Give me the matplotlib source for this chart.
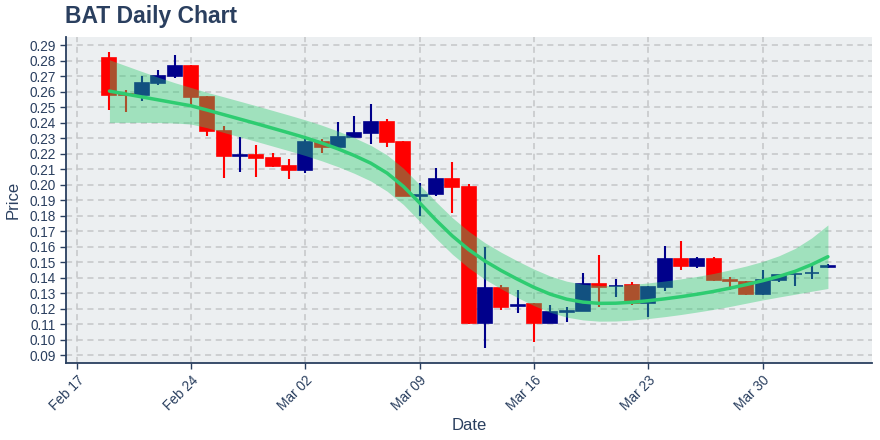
import matplotlib
matplotlib.use("Agg")
import matplotlib.pyplot as plt
import matplotlib.dates as mdates
import numpy as np
import pandas as pd

plt.rcParams['font.family'] = ['Liberation Sans', 'DejaVu Sans']

# ---- data ----
dates = pd.date_range("2020-02-19", "2020-04-03", freq="D")

open_ = [0.2818, 0.2585, 0.2580, 0.2659, 0.2704, 0.2767, 0.2569, 0.2347, 0.2188, 0.2192,
         0.2173, 0.2119, 0.2095, 0.2278, 0.2246, 0.2310, 0.2336, 0.2405, 0.2278, 0.1930,
         0.1943, 0.2037, 0.1988, 0.1110, 0.1336, 0.1220, 0.1231, 0.1110, 0.1182, 0.1188,
         0.1358, 0.1345, 0.1354, 0.1235, 0.1343, 0.1521, 0.1478, 0.1521, 0.1384, 0.1375,
         0.1297, 0.1386, 0.1422, 0.1429, 0.1468]
high = [0.2857, 0.2612, 0.2704, 0.2741, 0.2838, 0.2773, 0.2573, 0.2380, 0.2311, 0.2255,
        0.2208, 0.2166, 0.2300, 0.2294, 0.2407, 0.2444, 0.2519, 0.2426, 0.2282, 0.2010,
        0.2106, 0.2145, 0.2003, 0.1597, 0.1354, 0.1321, 0.1235, 0.1225, 0.1210, 0.1429,
        0.1547, 0.1390, 0.1371, 0.1345, 0.1607, 0.1637, 0.1534, 0.1534, 0.1405, 0.1378,
        0.1450, 0.1420, 0.1426, 0.1487, 0.1487]
low = [0.2483, 0.2472, 0.2541, 0.2646, 0.2691, 0.2509, 0.2315, 0.2042, 0.2085, 0.2048,
       0.2112, 0.2035, 0.2078, 0.2203, 0.2225, 0.2308, 0.2263, 0.2246, 0.1925, 0.1799,
       0.1928, 0.1820, 0.1100, 0.0949, 0.1192, 0.1175, 0.0988, 0.1105, 0.1117, 0.1185,
       0.1210, 0.1278, 0.1223, 0.1149, 0.1317, 0.1450, 0.1465, 0.1380, 0.1321, 0.1287,
       0.1290, 0.1375, 0.1347, 0.1394, 0.1466]
close = [0.2582, 0.2582, 0.2657, 0.2702, 0.2767, 0.2569, 0.2349, 0.2186, 0.2192, 0.2175,
         0.2124, 0.2095, 0.2278, 0.2246, 0.2306, 0.2334, 0.2405, 0.2278, 0.1928, 0.1936,
         0.2037, 0.1986, 0.1110, 0.1336, 0.1214, 0.1226, 0.1110, 0.1177, 0.1186, 0.1358,
         0.1339, 0.1349, 0.1235, 0.1341, 0.1521, 0.1478, 0.1521, 0.1386, 0.1380, 0.1297,
         0.1386, 0.1418, 0.1426, 0.1433, 0.1476]

trend_mid = [0.2605, 0.2586, 0.2567, 0.2548, 0.2529, 0.2510, 0.2482, 0.2453, 0.2424, 0.2395,
             0.2365, 0.2335, 0.2304, 0.2270, 0.2232, 0.2189, 0.2140, 0.2076, 0.1990, 0.1883,
             0.1772, 0.1670, 0.1582, 0.1508, 0.1446, 0.1390, 0.1338, 0.1294, 0.1262, 0.1243,
             0.1235, 0.1236, 0.1242, 0.1252, 0.1264, 0.1278, 0.1294, 0.1312, 0.1333, 0.1356,
             0.1381, 0.1409, 0.1442, 0.1485, 0.1536]
trend_upper = [0.2807, 0.2769, 0.2731, 0.2694, 0.2659, 0.2628, 0.2596, 0.2568, 0.2539, 0.2510,
               0.2480, 0.2450, 0.2419, 0.2385, 0.2347, 0.2304, 0.2255, 0.2193, 0.2107, 0.2001,
               0.1890, 0.1788, 0.1700, 0.1626, 0.1564, 0.1508, 0.1456, 0.1411, 0.1378, 0.1358,
               0.1350, 0.1351, 0.1357, 0.1367, 0.1379, 0.1393, 0.1409, 0.1428, 0.1451, 0.1476,
               0.1505, 0.1542, 0.1590, 0.1657, 0.1741]
trend_lower = [0.2403, 0.2403, 0.2403, 0.2402, 0.2399, 0.2392, 0.2368, 0.2338, 0.2309, 0.2280,
               0.2250, 0.2220, 0.2189, 0.2155, 0.2117, 0.2074, 0.2025, 0.1959, 0.1873, 0.1765,
               0.1654, 0.1552, 0.1464, 0.1390, 0.1328, 0.1272, 0.1220, 0.1177, 0.1146, 0.1128,
               0.1120, 0.1121, 0.1127, 0.1137, 0.1149, 0.1163, 0.1179, 0.1196, 0.1215, 0.1236,
               0.1257, 0.1276, 0.1294, 0.1313, 0.1331]

yticks = [round(0.09 + 0.01 * i, 2) for i in range(21)]

# ---- style ----
TEXT = '#2a3f5f'
INC = '#00008b'
DEC = '#ff0000'
BAND = '#2ecc71'

fig = plt.figure(figsize=(8.8, 4.4), dpi=100)
ax = fig.add_axes([66 / 880, 1 - 363 / 440, (872 - 66) / 880, (363 - 36.7) / 440])
ax.set_facecolor('#eceff1')

x = mdates.date2num(dates)
o = np.array(open_); c = np.array(close); h = np.array(high); l = np.array(low)
inc = c >= o
colors = np.where(inc, INC, DEC)

ax.vlines(x, l, h, colors=colors, linewidth=1.5, zorder=3)
bottoms = np.minimum(o, c)
heights = np.abs(c - o)
ax.bar(x, heights, bottom=bottoms, width=0.86, color=colors, edgecolor=colors,
       linewidth=1.2, zorder=4)

ax.fill_between(x, trend_lower, trend_upper, color=BAND, alpha=0.4, linewidth=0, zorder=5)
ax.plot(x, trend_mid, color=BAND, linewidth=2.5, zorder=6, solid_capstyle='round',
        solid_joinstyle='round')

ax.set_xlim(x[0] - 2.66, x[-1] + 2.7)
ax.set_ylim(0.0850, 0.2956)
ax.set_yticks(yticks)
ax.yaxis.set_major_formatter(matplotlib.ticker.FormatStrFormatter('%.2f'))
ax.xaxis.set_major_locator(mdates.WeekdayLocator(byweekday=mdates.MO))
ax.xaxis.set_major_formatter(mdates.DateFormatter('%b %d'))

ax.grid(True, color='#c4c6c8', linestyle=(0, (4, 3)), linewidth=1.1, zorder=0)
ax.set_axisbelow(True)

for s in ['top', 'right']:
    ax.spines[s].set_visible(False)
for s in ['left', 'bottom']:
    ax.spines[s].set_color(TEXT)
    ax.spines[s].set_linewidth(1.3)

ax.tick_params(axis='both', colors=TEXT, labelcolor=TEXT, labelsize=9.8, length=4, width=1)
plt.setp(ax.get_xticklabels(), rotation=45, ha='right', rotation_mode='anchor')

ax.set_xlabel('Date', color=TEXT, fontsize=12, labelpad=3)
ax.set_ylabel('Price', color=TEXT, fontsize=12, labelpad=6)

fig.text(65 / 880, 1 - 17 / 440, 'BAT Daily Chart', fontsize=16.5, fontweight='bold',
         color=TEXT, ha='left', va='center')

fig.savefig('out.png', dpi=100)
